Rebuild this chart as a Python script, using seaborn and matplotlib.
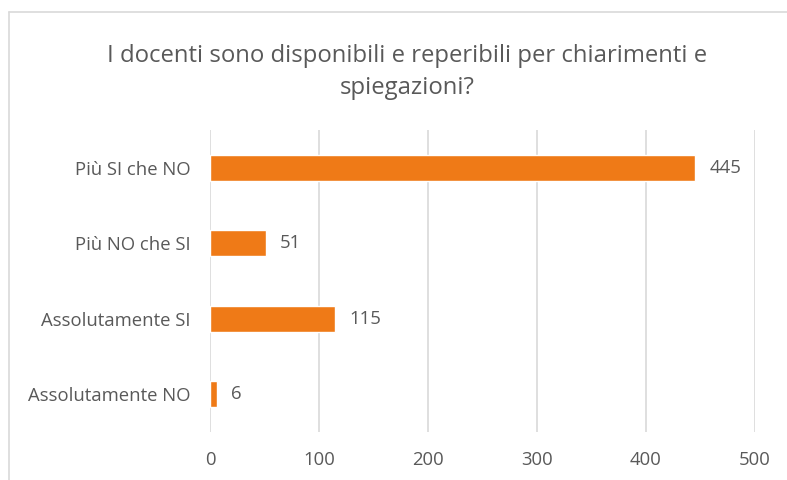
import matplotlib
matplotlib.use("Agg")
import matplotlib.pyplot as plt
import seaborn as sns
from matplotlib.lines import Line2D

categories = ["Più SI che NO", "Più NO che SI", "Assolutamente SI", "Assolutamente NO"]
values = [445, 51, 115, 6]
title = "I docenti sono disponibili e reperibili per chiarimenti e\nspiegazioni?"

sns.set_theme(style="white")
plt.rcParams["font.family"] = ["Open Sans", "DejaVu Sans"]

grey = "#595959"
fig = plt.figure(figsize=(7.87, 4.8), dpi=100)
ax = fig.add_axes([0.2668, 0.1, 0.6925, 0.6292])

sns.barplot(x=values, y=categories, orient="h", color="#EF7A17",
            saturation=1, width=0.35, ax=ax)

ax.set_xlim(0, 500)
ax.set_xticks(range(0, 501, 100))
ax.grid(axis="x", color="#D9D9D9", linewidth=1.2)
ax.set_axisbelow(True)
for s in ax.spines.values():
    s.set_visible(False)
ax.tick_params(axis="both", length=0, labelsize=13.3, labelcolor=grey)
ax.tick_params(axis="x", pad=14)
ax.tick_params(axis="y", pad=14)
ax.set_xlabel("")
ax.set_ylabel("")

for i, v in enumerate(values):
    ax.text(v + 13, i, str(v), va="center", ha="left", fontsize=13.3, color=grey)

fig.text(0.517, 0.85, title, ha="center", va="center", fontsize=17.2,
         color=grey, linespacing=1.5)

# chart frame
fig.add_artist(Line2D([9/787, 9/787], [0, 1 - 12/480], color="#D9D9D9", lw=1.2))
fig.add_artist(Line2D([9/787, 1], [1 - 12/480, 1 - 12/480], color="#D9D9D9", lw=1.2))

fig.savefig("out.png", dpi=100)
